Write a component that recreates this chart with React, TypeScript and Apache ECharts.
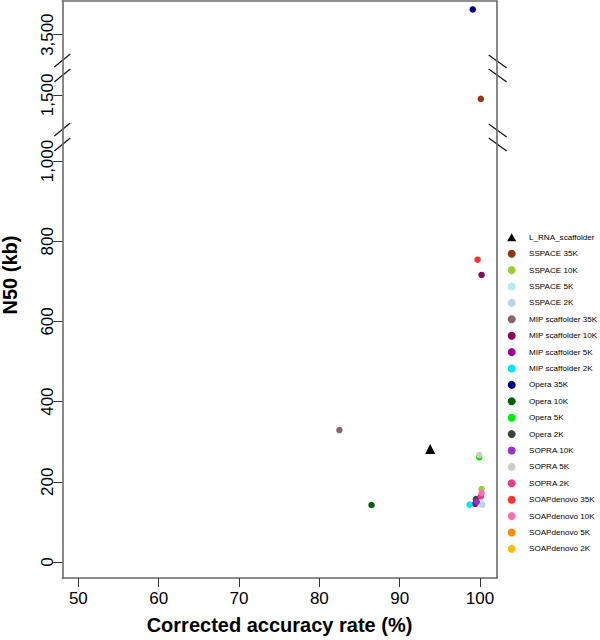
import React, { useEffect, useRef } from "react";
import * as echarts from "echarts";

// ---- data ----
const methodNames = [
  "L_RNA_scaffolder",
  "SSPACE 35K",
  "SSPACE 10K",
  "SSPACE 5K",
  "SSPACE 2K",
  "MIP scaffolder 35K",
  "MIP scaffolder 10K",
  "MIP scaffolder 5K",
  "MIP scaffolder 2K",
  "Opera 35K",
  "Opera 10K",
  "Opera 5K",
  "Opera 2K",
  "SOPRA 10K",
  "SOPRA 5K",
  "SOPRA 2K",
  "SOAPdenovo 35K",
  "SOAPdenovo 10K",
  "SOAPdenovo 5K",
  "SOAPdenovo 2K",
];
// corrected accuracy rate (%)
const accuracy = [93.8, 100.1, 100.2, 100.0, 100.3, 82.5, 100.2, 99.4, 98.7, 99.1, 86.5, 99.9, 99.5, 99.6, 99.9, 100.1, 99.7, 100.2, 100.1, 100.1];
// N50 (kb)
const n50 = [282, 1490, 182, 158, 143, 329, 716, 145, 143, 3563, 142, 261, 157, 150, 267, 164, 754, 172, 164, 164];

const palette = [
  "#000000", "#9A3212", "#9ACD32", "#AEEEEE", "#B9D3EE",
  "#8B636C", "#8B0A50", "#990099", "#00E5EE", "#00008B",
  "#006400", "#00EE00", "#404040", "#9932CC", "#CDCDC1",
  "#EE3A8C", "#FF3030", "#FF6EB4", "#FF8C00", "#FFB90F",
];

const xTicks = [50, 60, 70, 80, 90, 100];
const yTicksLow = [0, 200, 400, 600, 800, 1000];
const yTicksMid = [1500];
const yTicksTop = [3500];

// y segments of the broken axis (top, middle, bottom)
const segments = [
  { min: 3417, max: 3584, ticks: yTicksTop },
  { min: 1395, max: 1567, ticks: yTicksMid },
  { min: -40, max: 1060, ticks: yTicksLow },
];

const FONT = "'Liberation Sans', Arial, Helvetica, sans-serif";

function fmt(v: number) {
  return String(v).replace(/\B(?=(\d{3})+(?!\d))/g, ",");
}

export default function App() {
  const ref = useRef<HTMLDivElement>(null);
  useEffect(() => {
    if (!ref.current) return;
    const chart = echarts.init(ref.current, undefined, { renderer: "svg" });

    const L = 62.3, R = 496.7, T = 1, B = 578.3;
    const BR2 = 68, BR1 = 137;
    const W = R - L;
    const grids = [
      { left: L, top: T, width: W, height: BR2 - T },
      { left: L, top: BR2, width: W, height: BR1 - BR2 },
      { left: L, top: BR1, width: W, height: B - BR1 },
    ];
    const frameLine = { color: "#6a6a6a", width: 1.6 };
    const tickLine = { color: "#333", width: 1 };

    const xAxes = grids.map((_, i) => {
      const base: any = {
        type: "value",
        gridIndex: i,
        min: 48,
        max: 102.08,
        splitLine: { show: false },
        axisLine: { show: false, onZero: false, lineStyle: frameLine },
        axisTick: { show: false },
        axisLabel: { show: false },
      };
      if (i === 0) {
        base.position = "top";
        base.axisLine.show = true;
      }
      if (i === 2) {
        base.axisLine.show = true;
        base.axisTick = { show: true, customValues: xTicks, length: 9, lineStyle: tickLine };
        base.axisLabel = {
          show: true,
          customValues: xTicks,
          fontSize: 17,
          color: "#000",
          fontFamily: FONT,
          margin: 12,
        };
        base.name = "Corrected accuracy rate (%)";
        base.nameLocation = "middle";
        base.nameGap = 37;
        base.nameTextStyle = { fontSize: 20, fontWeight: "bold", color: "#000", fontFamily: FONT };
      }
      return base;
    });

    const yAxes: any[] = [];
    segments.forEach((s, i) => {
      yAxes.push({
        type: "value",
        gridIndex: i,
        min: s.min,
        max: s.max,
        position: "left",
        splitLine: { show: false },
        axisLine: { show: true, onZero: false, lineStyle: frameLine },
        axisTick: { show: true, customValues: s.ticks, length: 9, lineStyle: tickLine },
        axisLabel: {
          customValues: s.ticks,
          rotate: 90,
          fontSize: 17,
          color: "#000",
          fontFamily: FONT,
          margin: 6,
          formatter: (v: number) => fmt(v),
        },
      });
    });
    segments.forEach((s, i) => {
      yAxes.push({
        type: "value",
        gridIndex: i,
        min: s.min,
        max: s.max,
        position: "right",
        splitLine: { show: false },
        axisLine: { show: true, onZero: false, lineStyle: frameLine },
        axisTick: { show: false },
        axisLabel: { show: false },
      });
    });

    const segOf = (y: number) => {
      const idx = segments.findIndex((s) => y >= s.min && y <= s.max);
      return idx < 0 ? 2 : idx;
    };

    const series = methodNames.map((name, i) => {
      const g = segOf(n50[i]);
      return {
        type: "scatter",
        name,
        xAxisIndex: g,
        yAxisIndex: g,
        symbol: i === 0 ? "triangle" : "circle",
        symbolSize: i === 0 ? 10 : 6.5,
        itemStyle: { color: palette[i], opacity: 1 },
        z: i === 18 || i === 19 ? 1 : 2,
        data: [[accuracy[i], n50[i]]],
      };
    });

    const slash = (x1: number, y1: number, x2: number, y2: number) => ({
      type: "line",
      shape: { x1, y1, x2, y2 },
      style: { stroke: "#111", lineWidth: 1.2 },
      silent: true,
    });
    const breaks: any[] = [];
    [BR1, BR2].forEach((yc) => {
      breaks.push(slash(L - 8, yc - 1, L + 8, yc - 14));
      breaks.push(slash(L - 8, yc + 14, L + 8, yc + 1));
      breaks.push(slash(R - 8, yc - 13, R + 10, yc));
      breaks.push(slash(R - 8, yc + 1, R + 10, yc + 14));
    });

    chart.setOption({
      animation: false,
      backgroundColor: "#fff",
      textStyle: { fontFamily: FONT },
      grid: grids,
      xAxis: xAxes,
      yAxis: yAxes,
      legend: {
        orient: "vertical",
        left: 507.2,
        top: 233.3,
        padding: 0,
        itemWidth: 9,
        itemHeight: 8,
        itemGap: 8.4,
        selectedMode: false,
        textStyle: { fontSize: 8.1, color: "#000", fontFamily: FONT, padding: [0, 0, 0, 7.8] },
        data: methodNames.map((n, i) => ({ name: n, icon: i === 0 ? "triangle" : "circle" })),
      },
      graphic: [
        ...breaks,
        {
          type: "text",
          x: 10,
          y: 275,
          rotation: Math.PI / 2,
          style: {
            text: "N50 (kb)",
            fontSize: 20,
            fontWeight: "bold",
            fontFamily: FONT,
            fill: "#000",
            align: "center",
            verticalAlign: "middle",
          },
        },
      ],
      series,
    });
    return () => chart.dispose();
  }, []);
  return (
    <div
      ref={ref}
      style={{ position: "fixed", left: 0, top: 0, width: 600, height: 640, background: "#fff" }}
    />
  );
}
